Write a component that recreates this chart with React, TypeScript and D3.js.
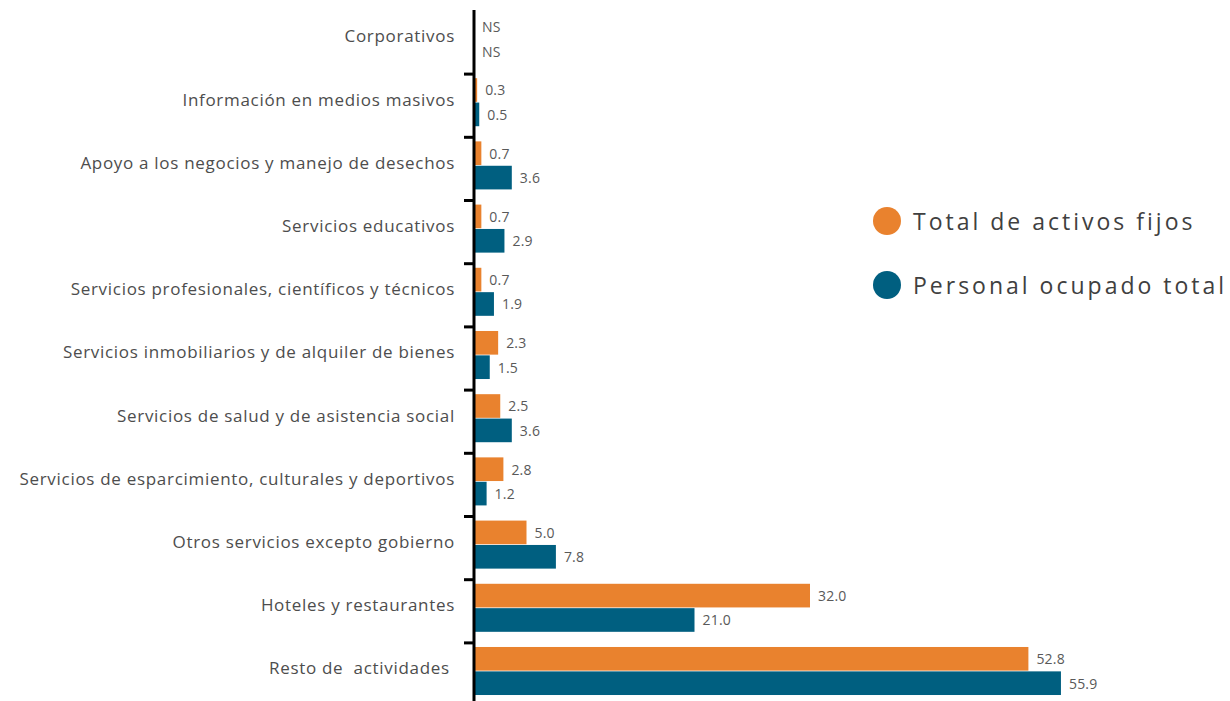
import React, { useEffect } from "react";
import * as d3 from "d3";

// categories from top to bottom
const categories = [
  "Corporativos",
  "Información en medios masivos",
  "Apoyo a los negocios y manejo de desechos",
  "Servicios educativos",
  "Servicios profesionales, científicos y técnicos",
  "Servicios inmobiliarios y de alquiler de bienes",
  "Servicios de salud y de asistencia social",
  "Servicios de esparcimiento, culturales y deportivos",
  "Otros servicios excepto gobierno",
  "Hoteles y restaurantes",
  "Resto de  actividades ",
];

// null = NS (no significativo)
const activosFijos = [null, 0.3, 0.7, 0.7, 0.7, 2.3, 2.5, 2.8, 5.0, 32.0, 52.8];
const personalOcupado = [null, 0.5, 3.6, 2.9, 1.9, 1.5, 3.6, 1.2, 7.8, 21.0, 55.9];

const seriesNames = ["Total de activos fijos", "Personal ocupado total"];
const colors = ["#E9822E", "#005F80"];

const width = 1230;
const height = 701;
const axisX = 474;

const App = () => {
  useEffect(() => {
    document.body.style.margin = "0";
  }, []);

  const x = d3.scaleLinear().domain([0, 60]).range([axisX, axisX + 630]);

  const y = d3
    .scaleBand()
    .domain(categories)
    .range([7.4, 702.6])
    .paddingInner(0.24)
    .paddingOuter(0.12);

  const ySub = d3
    .scaleBand()
    .domain(seriesNames)
    .range([0, y.bandwidth()])
    .paddingInner(0.03);

  const series = [activosFijos, personalOcupado];
  const tickOffset = (y.step() * y.paddingInner()) / 2 - 3.5;

  return (
    <svg width={width} height={height} style={{ display: "block" }}>
      <g fontFamily="'Open Sans', sans-serif">
        {/* bars */}
        {categories.map((c, i) => (
          <g key={c} transform={`translate(0,${y(c)})`}>
            {series.map((s, k) => {
              const v = s[i];
              const yy = ySub(seriesNames[k]);
              return (
                <g key={k}>
                  {v !== null && (
                    <rect
                      x={x(0)}
                      y={yy}
                      width={x(v) - x(0)}
                      height={ySub.bandwidth()}
                      fill={colors[k]}
                    />
                  )}
                  <text
                    x={x(v ?? 0) + 8}
                    y={yy + ySub.bandwidth() / 2}
                    dominantBaseline="central"
                    fontSize={14}
                    letterSpacing={0.2}
                    fill="#595959"
                  >
                    {v === null ? "NS" : v.toFixed(1)}
                  </text>
                </g>
              );
            })}
            <text
              x={455}
              y={y.bandwidth() / 2 - 3}
              textAnchor="end"
              dominantBaseline="central"
              fontSize={17}
              letterSpacing={0.7}
              fill="#4d4d4d"
              style={{ whiteSpace: "pre" }}
            >
              {c}
            </text>
          </g>
        ))}

        {/* axis */}
        <line x1={axisX} x2={axisX} y1={10} y2={height} stroke="#000" strokeWidth={3} />
        {categories.slice(1).map((c) => (
          <line
            key={c}
            x1={axisX - 10}
            x2={axisX}
            y1={(y(c) ?? 0) - tickOffset}
            y2={(y(c) ?? 0) - tickOffset}
            stroke="#000"
            strokeWidth={3}
          />
        ))}

        {/* legend */}
        {seriesNames.map((name, k) => (
          <g key={name} transform={`translate(887,${221 + k * 64})`}>
            <circle r={14} fill={colors[k]} />
            <text
              x={26}
              dominantBaseline="central"
              fontSize={23}
              letterSpacing={3}
              fill="#404040"
            >
              {name}
            </text>
          </g>
        ))}
      </g>
    </svg>
  );
};

export default App;
